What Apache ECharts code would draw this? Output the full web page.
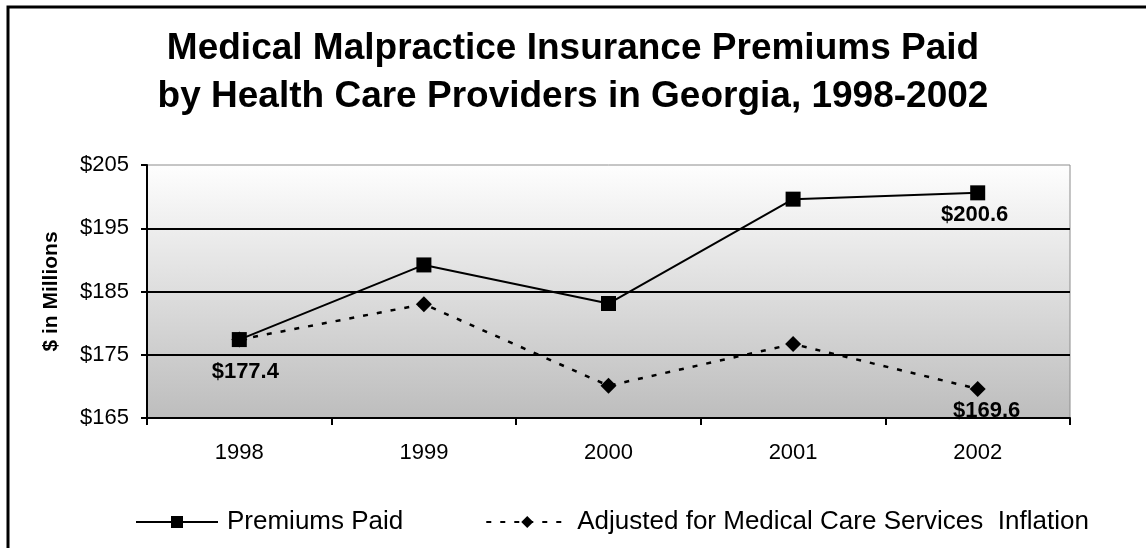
<!DOCTYPE html>
<html>
<head>
<meta charset="utf-8">
<script src="https://cdn.jsdelivr.net/npm/echarts@6/dist/echarts.min.js"></script>
<style>
  html, body { margin: 0; padding: 0; background: #fff; }
  #chart { width: 1146px; height: 548px; }
</style>
</head>
<body>
<div id="chart"></div>
<script>
// data
const years = ["1998", "1999", "2000", "2001", "2002"];
const premiumsPaid = [177.4, 189.2, 183.1, 199.6, 200.6];
const adjustedForInflation = [177.4, 183.0, 170.1, 176.7, 169.6];
const yTicks = [165, 175, 185, 195, 205];

// which points carry a value label, and where it sits relative to the marker
const premiumLabels = { 0: [6, 32], 4: [-3, 22] };
const adjustedLabels = { 4: [9, 22] };

const FONT = "'Liberation Sans', Arial, sans-serif";

function withLabels(values, labels) {
  return values.map((v, i) => {
    if (!labels[i]) return v;
    return {
      value: v,
      label: {
        show: true,
        position: "inside",
        offset: labels[i],
        formatter: (p) => "$" + p.value.toFixed(1),
        color: "#000",
        fontFamily: FONT,
        fontSize: 22,
        fontWeight: "bold",
      },
    };
  });
}

const chart = echarts.init(document.getElementById("chart"), null, { renderer: "canvas" });

const option = {
  backgroundColor: "#fff",
  animation: false,
  title: {
    text: "Medical Malpractice Insurance Premiums Paid\nby Health Care Providers in Georgia, 1998-2002",
    left: "center",
    top: 25,
    padding: 0,
    textStyle: {
      color: "#000",
      fontFamily: FONT,
      fontSize: 37,
      fontWeight: "bold",
      lineHeight: 48,
    },
  },
  legend: {
    data: ["Premiums Paid", "Adjusted for Medical Care Services  Inflation"],
    left: 135,
    top: 508,
    padding: 0,
    itemWidth: 82,
    itemHeight: 15,
    itemGap: 82,
    textStyle: {
      color: "#000",
      fontFamily: FONT,
      fontSize: 26,
      lineHeight: 28,
      padding: [0, 0, 0, 4],
    },
  },
  grid: {
    left: 147,
    right: 76,
    top: 165,
    bottom: 130,
    show: true,
    borderColor: "#8c8c8c",
    borderWidth: 1,
    backgroundColor: new echarts.graphic.LinearGradient(0, 0, 0, 1, [
      { offset: 0, color: "#fefefe" },
      { offset: 1, color: "#bdbdbd" },
    ]),
  },
  xAxis: {
    type: "category",
    data: years,
    boundaryGap: true,
    axisLine: { lineStyle: { color: "#000", width: 2 } },
    axisTick: { show: true, length: 7, lineStyle: { color: "#000", width: 2 } },
    axisLabel: { color: "#000", fontFamily: FONT, fontSize: 22, margin: 24 },
  },
  yAxis: {
    type: "value",
    min: yTicks[0],
    max: yTicks[yTicks.length - 1],
    interval: 10,
    name: "$ in Millions",
    nameLocation: "middle",
    nameGap: 85,
    nameTextStyle: { color: "#000", fontFamily: FONT, fontSize: 21, fontWeight: "bold" },
    axisLine: { show: true, lineStyle: { color: "#000", width: 2 } },
    axisTick: { show: true, length: 6, lineStyle: { color: "#000", width: 2 } },
    axisLabel: {
      color: "#000",
      fontFamily: FONT,
      fontSize: 22,
      margin: 18,
      formatter: (v) => "$" + v,
    },
    splitLine: {
      show: true,
      showMinLine: false,
      showMaxLine: false,
      lineStyle: { color: "#000", width: 2 },
    },
  },
  series: [
    {
      name: "Adjusted for Medical Care Services  Inflation",
      type: "line",
      data: withLabels(adjustedForInflation, adjustedLabels),
      symbol: "diamond",
      symbolSize: 16,
      itemStyle: { color: "#000" },
      lineStyle: { color: "#000", width: 2.5, type: [5, 9] },
      z: 2,
    },
    {
      name: "Premiums Paid",
      type: "line",
      data: withLabels(premiumsPaid, premiumLabels),
      symbol: "rect",
      symbolSize: 15,
      itemStyle: { color: "#000" },
      lineStyle: { color: "#000", width: 2 },
      z: 3,
    },
  ],
  graphic: [
    {
      type: "rect",
      shape: { x: 8, y: 7, width: 1300, height: 700 },
      style: { fill: null, stroke: "#000", lineWidth: 3 },
      silent: true,
    },
  ],
};

chart.setOption(option);
</script>
</body>
</html>
